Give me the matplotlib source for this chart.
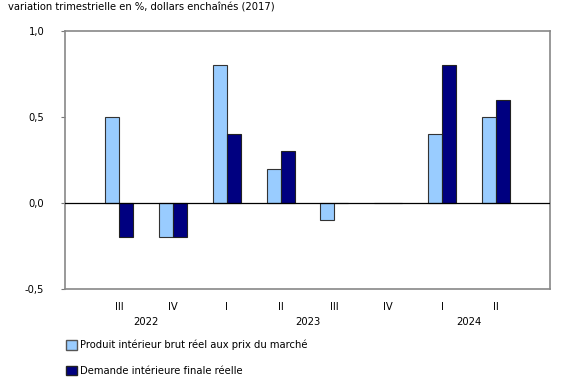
import numpy as np
import matplotlib
matplotlib.use("Agg")
import matplotlib.pyplot as plt
from matplotlib.patches import Patch

quarters = ['III', 'IV', 'I', 'II', 'III', 'IV', 'I', 'II']
years = ['2022', '2023', '2024']
year_pos = [0.5, 3.5, 6.5]
gdp = [0.5, -0.2, 0.8, 0.2, -0.1, 0.0, 0.4, 0.5]
dfd = [-0.2, -0.2, 0.4, 0.3, 0.0, 0.0, 0.8, 0.6]
yticks = [-0.5, 0.0, 0.5, 1.0]
ytick_labels = ['-0,5', '0,0', '0,5', '1,0']

plt.rcParams['font.family'] = ['DejaVu Sans']
fs = 7.2

fig = plt.figure(figsize=(5.8, 3.85), dpi=100)
ax = fig.add_axes([65/580, 1-289/385, 485/580, 258/385])

x = np.arange(len(quarters))
w = 0.26
ax.bar(x - w/2, gdp, w, color='#99CCFF', edgecolor='#333333', linewidth=0.8, zorder=2)
ax.bar(x + w/2, dfd, w, color='#000080', edgecolor='#222222', linewidth=0.8, zorder=2)
ax.axhline(0, color='black', linewidth=0.9, zorder=3)

ax.set_xlim(-1, 8)
ax.set_ylim(-0.5, 1.0)
ax.set_yticks(yticks)
ax.set_yticklabels(ytick_labels, fontsize=fs)
ax.set_xticks(x)
ax.set_xticklabels(quarters, fontsize=fs)
ax.tick_params(axis='x', length=0, pad=9)
ax.tick_params(axis='y', length=3, color='#777777', pad=12)
for s in ax.spines.values():
    s.set_color('#888888')
    s.set_linewidth(1.2)

for yr, p in zip(years, year_pos):
    ax.text(p, -0.5 - 33/172, yr, ha='center', va='center', fontsize=fs,
            transform=ax.transData)

fig.text(8/580, 1-8/385, 'variation trimestrielle en %, dollars enchaînés (2017)',
         fontsize=fs, va='center', ha='left')

handles = [Patch(facecolor='#99CCFF', edgecolor='#555555'),
           Patch(facecolor='#000080', edgecolor='#222222')]
labels = ['Produit intérieur brut réel aux prix du marché',
          'Demande intérieure finale réelle']
fig.legend(handles, labels, loc='upper left', bbox_to_anchor=(57/580, 1-331/385),
           frameon=False, fontsize=fs, handlelength=1.05, handleheight=1.05,
           handletextpad=0.35, labelspacing=1.55)

fig.savefig('out.png', dpi=100)
